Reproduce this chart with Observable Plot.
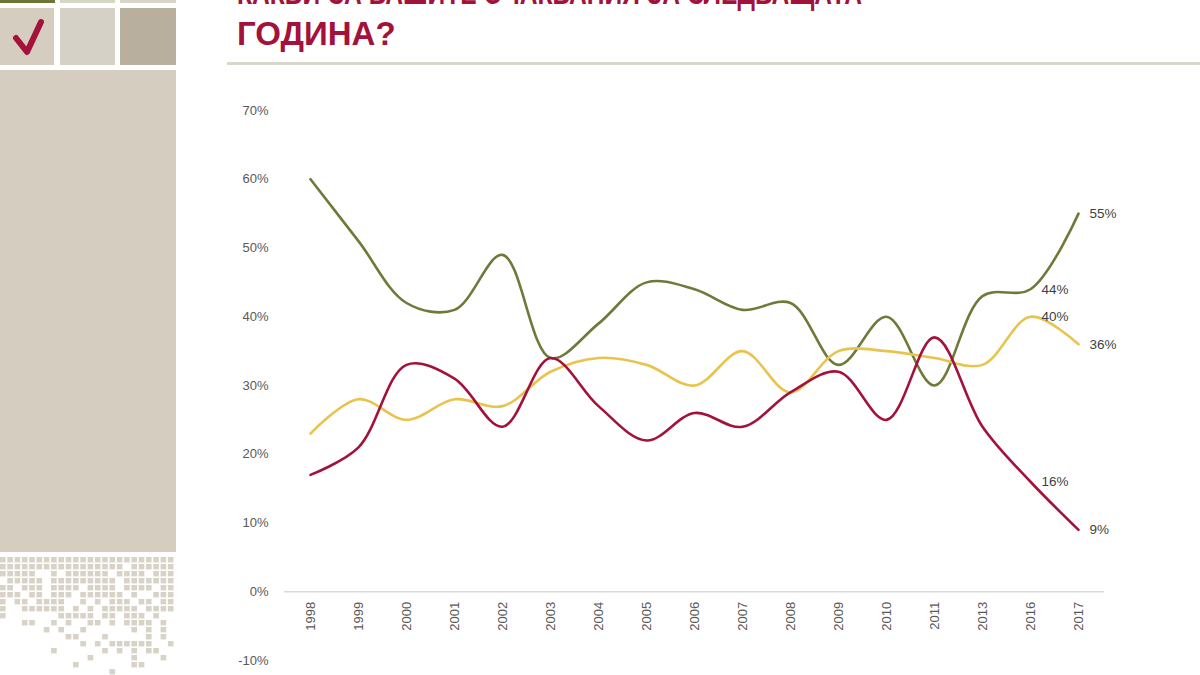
<!DOCTYPE html>
<html lang="bg">
<head>
<meta charset="utf-8">
<script src="https://cdn.jsdelivr.net/npm/d3@7"></script>
<script src="https://cdn.jsdelivr.net/npm/@observablehq/plot@0.6"></script>
<style>
  html, body { margin: 0; padding: 0; background: #fff; }
  #page { position: relative; width: 1200px; height: 675px; overflow: hidden; background: #fff; font-family: "Liberation Sans", Arial, sans-serif; }
  #deco, #chart { position: absolute; left: 0; top: 0; }
</style>
</head>
<body>
<div id="page">
  <svg id="deco" width="1200" height="675"></svg>
  <div id="chart"></div>
</div>
<script>
// Survey years (category axis)
const years = ["1998","1999","2000","2001","2002","2003","2004","2005","2006","2007","2008","2009","2010","2011","2013","2016","2017"];
// Shares of answers, percent
const seriesA = [60, 51, 42, 41, 49, 34, 39, 45, 44, 41, 42, 33, 40, 30, 43, 44, 55];
const seriesB = [23, 28, 25, 28, 27, 32, 34, 33, 30, 35, 29, 35, 35, 34, 33, 40, 36];
const seriesC = [17, 21, 33, 31, 24, 34, 27, 22, 26, 24, 29, 32, 25, 37, 24, 16,  9];
const seriesNames  = ["A", "B", "C"];
const seriesColors = ["#6e7a3a", "#e8c44f", "#a3123a"];
const yTicks = [-10, 0, 10, 20, 30, 40, 50, 60, 70];
const labelYears = ["2016", "2017"];
const titleLines = ["КАКВИ СА ВАШИТЕ ОЧАКВАНИЯ ЗА СЛЕДВАЩАТА", "ГОДИНА?"];

// Long table for the line marks
const rows = [];
[seriesA, seriesB, seriesC].forEach((vals, i) => {
  vals.forEach((v, j) => rows.push({series: seriesNames[i], year: years[j], value: v}));
});

// ---- decorative slide frame (left panel, title, separator) ----
const NS = "http://www.w3.org/2000/svg";
const deco = document.getElementById("deco");
function add(tag, attrs, text) {
  const el = document.createElementNS(NS, tag);
  for (const k in attrs) el.setAttribute(k, attrs[k]);
  if (text != null) el.textContent = text;
  deco.appendChild(el);
  return el;
}
// top row of squares (cropped)
add("rect", {x: 0, y: -20, width: 55, height: 23, fill: "#6c7436"});
add("rect", {x: 60, y: -20, width: 55, height: 23, fill: "#d6d6c4"});
add("rect", {x: 120, y: -20, width: 56, height: 23, fill: "#d9d4ca"});
// second row
add("rect", {x: 0, y: 8, width: 54, height: 57, fill: "#d4cdc0"});
add("rect", {x: 60, y: 8, width: 55, height: 57, fill: "#d6d1c6"});
add("rect", {x: 120, y: 8, width: 56, height: 57, fill: "#b9af9e"});
add("path", {d: "M16,38 L27,52 L41,22", fill: "none", stroke: "#a3123a", "stroke-width": 6, "stroke-linecap": "round", "stroke-linejoin": "round"});
// tall panel
add("rect", {x: 0, y: 70, width: 176, height: 482, fill: "#d4cdc0"});
// dissolving pixel pattern
const pixelRows = [
  "########################",
  "#################.######",
  "#####..#.######.####.###",
  ".#####.#########.#######",
  "##.###.####.####.####.##",
  "###.##.###.######.#..###",
  "#.##.####..#.#.###.##.##",
  "#..######.#.#.#####.####",
  "#.......#####.##.###.#..",
  "...##..#.#..##.#.####.#.",
  "......#.#..#......#.#.#.",
  ".........##...#.....#.#.",
  "...........#.#.######..#",
  ".......#......#.#.#.##..",
  "............#.....#...#.",
  "..........#.......##....",
  "...............#........"
];
pixelRows.forEach((row, r) => {
  [...row].forEach((ch, c) => {
    if (ch === "#") add("rect", {x: c * 7.3, y: 557 + r * 7, width: 5.6, height: 5.4, fill: "#d8d2c7"});
  });
});
// title (first line runs off the top edge of the slide)
add("text", {x: 237, y: 4, fill: "#a3123a", "font-size": 33, "font-weight": "bold", textLength: 625, lengthAdjust: "spacingAndGlyphs"}, titleLines[0]);
add("text", {x: 237, y: 45, fill: "#a3123a", "font-size": 33, "font-weight": "bold"}, titleLines[1]);
// separator
add("rect", {x: 227, y: 62, width: 973, height: 3, fill: "#d9d7ca"});

// ---- chart ----
const chart = Plot.plot({
  width: 1200,
  height: 675,
  marginLeft: 284,
  marginRight: 96,
  marginTop: 110,
  marginBottom: 15,
  style: {background: "transparent", color: "#595959", fontFamily: "'Liberation Sans', Arial, sans-serif", fontSize: "13px"},
  x: {type: "point", domain: years, padding: 0.5, axis: null},
  y: {domain: [-10, 70], axis: null},
  color: {domain: seriesNames, range: seriesColors},
  marks: [
    Plot.ruleY([0], {stroke: "#d9d9d9", strokeWidth: 1.5}),
    Plot.axisY({ticks: yTicks, tickSize: 0, tickPadding: 16, tickFormat: d => `${d}%`, fontSize: 13, label: null}),
    Plot.text(years, {x: d => d, y: 0, dy: 10, rotate: -90, textAnchor: "end", fill: "#595959", fontSize: 13}),
    Plot.line(rows, {x: "year", y: "value", z: "series", stroke: "series", strokeWidth: 2.6, curve: "catmull-rom"}),
    Plot.text(rows.filter(d => labelYears.includes(d.year)), {
      x: "year", y: "value", text: d => `${d.value}%`,
      dx: 11, textAnchor: "start", fill: "#3f3f3f", fontSize: 13.5
    })
  ]
});
document.getElementById("chart").appendChild(chart);
</script>
</body>
</html>
